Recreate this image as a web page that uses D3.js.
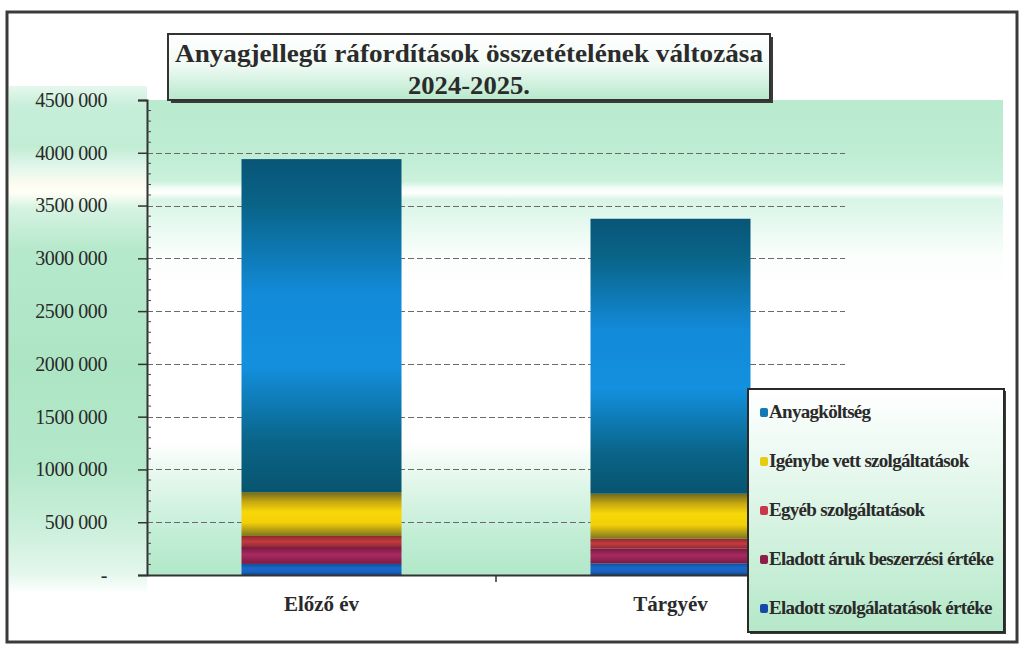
<!DOCTYPE html>
<html>
<head>
<meta charset="utf-8">
<script src="https://cdn.jsdelivr.net/npm/d3@7"></script>
<style>
  html, body { margin: 0; padding: 0; background: #ffffff; }
  svg { display: block; }
</style>
</head>
<body>
<svg id="chart" width="1019" height="647"></svg>
<script>
// Categories (x axis)
const categories = ["Előző év", "Tárgyév"];

// Series values, in stacking order from the bottom up
const eladottSzolgaltatasok = [105000, 110000];
const eladottAruk = [160000, 140000];
const egyebSzolgaltatasok = [105000, 95000];
const igenybeVett = [415000, 425000];
const anyagkoltseg = [3155000, 2605000];

const seriesNames = [
  "Eladott szolgálatatások értéke",
  "Eladott áruk beszerzési értéke",
  "Egyéb szolgáltatások",
  "Igénybe vett szolgáltatások",
  "Anyagköltség"
];
const seriesValues = [eladottSzolgaltatasok, eladottAruk, egyebSzolgaltatasok, igenybeVett, anyagkoltseg];

// Y axis ticks and their labels
const yTickValues = [0, 500000, 1000000, 1500000, 2000000, 2500000, 3000000, 3500000, 4000000, 4500000];
const yTickLabels = ["-", "500 000", "1000 000", "1500 000", "2000 000", "2500 000", "3000 000", "3500 000", "4000 000", "4500 000"];

const titleLines = ["Anyagjellegű ráfordítások összetételének változása", "2024-2025."];

const serif = "'Liberation Serif', 'Times New Roman', serif";

// Gradient stops per series: dark edges, bright middle band
const seriesStops = [
  [["0%", "#0d4f9a"], ["35%", "#1a66c8"], ["70%", "#1a62c0"], ["100%", "#0e4a90"]],
  [["0%", "#7a1840"], ["45%", "#a82a60"], ["100%", "#7c1a44"]],
  [["0%", "#8a2a2a"], ["50%", "#c43a40"], ["100%", "#8c2a34"]],
  [["0%", "#6f6a1e"], ["22%", "#c8a810"], ["45%", "#f8d808"], ["70%", "#f2cf08"], ["100%", "#7d7420"]],
  [["0%", "#085577"], ["14%", "#096488"], ["40%", "#128ad8"], ["62%", "#1390de"], ["85%", "#0a6488"], ["100%", "#08546f"]]
];

const svg = d3.select("#chart");
const defs = svg.append("defs");

function vGrad(id, stops) {
  const g = defs.append("linearGradient").attr("id", id)
    .attr("x1", 0).attr("y1", 0).attr("x2", 0).attr("y2", 1);
  stops.forEach(s => g.append("stop").attr("offset", s[0]).attr("stop-color", s[1]));
  return g;
}

seriesStops.forEach((st, i) => vGrad("seg" + i, st));

vGrad("leftBg", [
  ["0%", "#e6f8ee"], ["4%", "#c6eed8"], ["12%", "#c2edd5"], ["16%", "#e2f7ec"],
  ["19%", "#fbfbef"], ["21%", "#fffff6"], ["24%", "#d6f3e2"], ["32%", "#b6e9cc"],
  ["55%", "#acE5c4"], ["75%", "#b4e8ca"], ["88%", "#cdf0dc"], ["96%", "#e4f7ed"], ["100%", "#ffffff"]
]);
vGrad("plotBg", [
  ["0%", "#b9ebcf"], ["10%", "#bdecd2"], ["17%", "#caf1dc"], ["18.6%", "#f4fdf8"],
  ["19.6%", "#ffffff"], ["21%", "#d8f5e6"], ["26%", "#e6f9f0"], ["33%", "#fbfefc"],
  ["40%", "#ffffff"], ["72%", "#ffffff"], ["80%", "#e3f7ec"], ["92%", "#c0edd4"], ["100%", "#b2e8c9"]
]);
vGrad("titleBg", [["0%", "#ffffff"], ["45%", "#f2fbf6"], ["100%", "#b6e9cb"]]);
vGrad("legendBg", [["0%", "#ffffff"], ["30%", "#eaf9f1"], ["100%", "#b4e8c8"]]);

// Layout
const plot = { left: 147, right: 845, top: 100, bottom: 575 };

const y = d3.scaleLinear().domain([0, 4500000]).range([plot.bottom, plot.top]);
const x = d3.scaleBand().domain(categories).range([plot.left, plot.right])
  .paddingInner(0.5415).paddingOuter(0.5415 / 2);

// Chart-area backgrounds
svg.append("rect").attr("x", 9).attr("y", 86).attr("width", plot.left - 9).attr("height", 508)
  .attr("fill", "url(#leftBg)");
svg.append("rect").attr("x", plot.left).attr("y", plot.top).attr("width", 1003 - plot.left)
  .attr("height", plot.bottom - plot.top).attr("fill", "url(#plotBg)");

// Gridlines
svg.append("g").selectAll("line").data(yTickValues.filter(v => v > 0 && v < 4500000)).join("line")
  .attr("x1", plot.left).attr("x2", plot.right)
  .attr("y1", d => Math.round(y(d)) + 0.5).attr("y2", d => Math.round(y(d)) + 0.5)
  .attr("stroke", "#6a6a6a").attr("stroke-width", 1).attr("stroke-dasharray", "6,3");

// Stacked bars
const stackData = categories.map((c, i) => {
  const o = { cat: c };
  seriesNames.forEach((s, k) => { o[s] = seriesValues[k][i]; });
  return o;
});
const stacked = d3.stack().keys(seriesNames)(stackData);

const layers = svg.append("g").selectAll("g").data(stacked).join("g")
  .attr("fill", (d, i) => `url(#seg${i})`);
layers.selectAll("rect").data(d => d).join("rect")
  .attr("x", d => x(d.data.cat))
  .attr("width", x.bandwidth())
  .attr("y", d => y(d[1]))
  .attr("height", d => y(d[0]) - y(d[1]));

// Y axis with outer ticks and minor ticks
const yAxis = d3.axisLeft(y).tickValues(yTickValues)
  .tickFormat((d, i) => yTickLabels[i]).tickSize(9).tickPadding(31);
const yg = svg.append("g").attr("transform", `translate(${plot.left},0)`).call(yAxis);
yg.select(".domain").attr("stroke", "#333").attr("stroke-width", 2);
yg.selectAll(".tick line").attr("stroke", "#333").attr("stroke-width", 1.5);
yg.selectAll(".tick text")
  .attr("font-family", serif)
  .attr("font-size", 20).attr("fill", "#2a2a2a").attr("letter-spacing", -0.4);

const minor = d3.range(100000, 4500000, 100000).filter(v => v % 500000 !== 0);
svg.append("g").selectAll("line").data(minor).join("line")
  .attr("x1", plot.left).attr("x2", plot.left + 4)
  .attr("y1", d => y(d)).attr("y2", d => y(d))
  .attr("stroke", "#444").attr("stroke-width", 1);

// X axis
const xAxis = d3.axisBottom(x).tickSize(0).tickPadding(21);
const xg = svg.append("g").attr("transform", `translate(0,${plot.bottom})`).call(xAxis);
xg.select(".domain").attr("stroke", "#333").attr("stroke-width", 2);
xg.selectAll(".tick text")
  .attr("font-family", serif)
  .attr("font-size", 21).attr("font-weight", "bold").attr("fill", "#2a2a2a");
// category separator tick
svg.append("line")
  .attr("x1", (x(categories[0]) + x.bandwidth() + x(categories[1])) / 2)
  .attr("x2", (x(categories[0]) + x.bandwidth() + x(categories[1])) / 2)
  .attr("y1", plot.bottom).attr("y2", plot.bottom + 7)
  .attr("stroke", "#333").attr("stroke-width", 1.5);

// Title box
const tb = { x: 168, y: 34, w: 602, h: 66 };
svg.append("rect").attr("x", tb.x + 3).attr("y", tb.y + 3).attr("width", tb.w).attr("height", tb.h)
  .attr("fill", "#3a3a3a");
svg.append("rect").attr("x", tb.x).attr("y", tb.y).attr("width", tb.w).attr("height", tb.h)
  .attr("fill", "url(#titleBg)").attr("stroke", "#333").attr("stroke-width", 2);
svg.append("text").attr("x", tb.x + tb.w / 2).attr("y", 62).attr("text-anchor", "middle")
  .attr("font-family", serif)
  .attr("font-size", 26).attr("font-weight", "bold").attr("fill", "#2b2b2b")
  .attr("textLength", 588).attr("lengthAdjust", "spacingAndGlyphs")
  .text(titleLines[0]);
svg.append("text").attr("x", tb.x + tb.w / 2).attr("y", 94).attr("text-anchor", "middle")
  .attr("font-family", serif)
  .attr("font-size", 26).attr("font-weight", "bold").attr("fill", "#2b2b2b")
  .attr("textLength", 122).attr("lengthAdjust", "spacingAndGlyphs")
  .text(titleLines[1]);

// Legend
const lg = { x: 748, y: 389, w: 256, h: 243 };
svg.append("rect").attr("x", lg.x + 2).attr("y", lg.y + 2).attr("width", lg.w).attr("height", lg.h)
  .attr("fill", "#3a3a3a");
svg.append("rect").attr("x", lg.x).attr("y", lg.y).attr("width", lg.w).attr("height", lg.h)
  .attr("fill", "url(#legendBg)").attr("stroke", "#2a2a2a").attr("stroke-width", 2);

const legendOrder = seriesNames.map((s, i) => ({ name: s, i })).reverse();
const legendSwatch = ["#1548a8", "#8c1e48", "#c83848", "#e8cc10", "#1478b8"];
const li = svg.append("g").selectAll("g").data(legendOrder).join("g")
  .attr("transform", (d, k) => `translate(${lg.x + 12},${lg.y + 24 + k * 49})`);
li.append("rect").attr("x", 0).attr("y", -5).attr("width", 8).attr("height", 9).attr("rx", 2)
  .attr("fill", d => legendSwatch[d.i]);
li.append("text").attr("x", 9).attr("y", 5)
  .attr("font-family", serif)
  .attr("font-size", 19).attr("font-weight", "bold").attr("fill", "#2a2a2a")
  .attr("letter-spacing", -0.7)
  .text(d => d.name);

// Outer frame
svg.append("rect").attr("x", 7).attr("y", 12).attr("width", 1010).attr("height", 630)
  .attr("fill", "none").attr("stroke", "#3a3a3a").attr("stroke-width", 3);
</script>
</body>
</html>
